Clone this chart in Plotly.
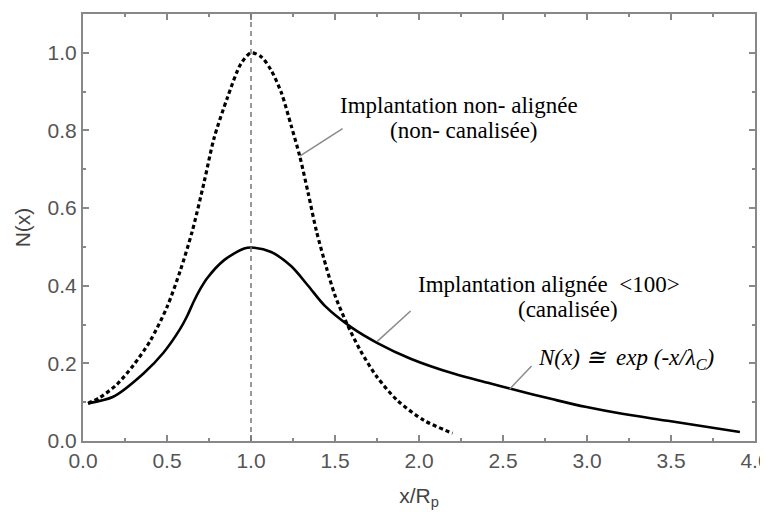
import plotly.graph_objects as go

# Non-aligned (non-channelled) implantation profile (dashed)
x_non = [0.03, 0.10, 0.20, 0.30, 0.40, 0.50, 0.58, 0.65, 0.72, 0.78, 0.86, 0.94, 1.00,
         1.06, 1.12, 1.18, 1.24, 1.29, 1.34, 1.39, 1.45, 1.50, 1.57, 1.65, 1.75, 1.87,
         2.03, 2.20]
n_non = [0.097, 0.112, 0.145, 0.195, 0.258, 0.345, 0.440, 0.540, 0.665, 0.780, 0.885,
         0.972, 1.000, 0.990, 0.955, 0.898, 0.811, 0.734, 0.639, 0.540, 0.445, 0.375,
         0.303, 0.234, 0.165, 0.105, 0.053, 0.020]

# Aligned <100> (channelled) implantation profile (solid)
x_al = [0.03, 0.18, 0.36, 0.48, 0.58, 0.62, 0.66, 0.70, 0.74, 0.84, 0.96, 1.02, 1.12,
        1.24, 1.34, 1.44, 1.60, 1.75, 1.95, 2.21, 2.41, 2.54, 2.81, 2.99, 3.21, 3.48, 3.91]
n_al = [0.097, 0.114, 0.174, 0.228, 0.290, 0.322, 0.360, 0.393, 0.420, 0.466, 0.496,
        0.498, 0.487, 0.450, 0.400, 0.348, 0.292, 0.253, 0.212, 0.173, 0.150, 0.135,
        0.106, 0.088, 0.070, 0.052, 0.023]

x_ticks = [0.0, 0.5, 1.0, 1.5, 2.0, 2.5, 3.0, 3.5, 4.0]
y_ticks = [0.0, 0.2, 0.4, 0.6, 0.8, 1.0]
rp_position = 1.0

fig = go.Figure()

fig.add_trace(go.Scatter(x=x_non, y=n_non, mode="lines",
                         line=dict(color="black", width=3.2, dash="4px,3px", shape="spline",
                                   smoothing=0.8),
                         showlegend=False))
fig.add_trace(go.Scatter(x=x_al, y=n_al, mode="lines",
                         line=dict(color="black", width=2.6, shape="spline", smoothing=0.8),
                         showlegend=False))

# vertical dashed line at Rp
fig.add_shape(type="line", x0=rp_position, x1=rp_position, y0=0, y1=1.1,
              xref="x", yref="y", line=dict(color="#777", width=1.5, dash="5px,4px"))

# pointer lines
pointer_col = "#8a8a8a"
fig.add_shape(type="line", x0=1.29, y0=0.734, x1=1.545, y1=0.805,
              line=dict(color=pointer_col, width=1.5))
fig.add_shape(type="line", x0=1.75, y0=0.256, x1=1.95, y1=0.335,
              line=dict(color=pointer_col, width=1.5))
fig.add_shape(type="line", x0=2.54, y0=0.134, x1=2.67, y1=0.193,
              line=dict(color=pointer_col, width=1.5))

serif = dict(family="Liberation Serif", size=23, color="black")
labels = [
    (2.239, 0.865, "Implantation non- alignée"),
    (2.269, 0.800, "(non- canalisée)"),
    (2.773, 0.403, "Implantation alignée &nbsp;&lt;100&gt;"),
    (2.887, 0.338, "(canalisée)"),
    (3.233, 0.211, "<i>N(x) ≅ &nbsp;exp (-x/λ<sub>C</sub>)</i>"),
]
for lx, ly, txt in labels:
    fig.add_annotation(x=lx, y=ly, xref="x", yref="y", showarrow=False,
                       text=txt, font=serif, align="center")

sans = "Liberation Sans"
axis_common = dict(
    showline=True, linecolor="#888", linewidth=2, mirror="ticks",
    ticks="inside", ticklen=6, tickwidth=1.5, tickcolor="#888",
    showgrid=False, zeroline=False, automargin=False,
    ticklabeloverflow="allow",
    tickfont=dict(family=sans, size=21, color="#555"),
)

fig.update_xaxes(range=[0, 4.0], tickvals=x_ticks, ticktext=[f"{v:.1f}" for v in x_ticks],
                 minor=dict(ticks="inside", ticklen=3, dtick=0.25, tickcolor="#888"),
                 title=dict(text="x/R<sub>p</sub>", standoff=17,
                            font=dict(family=sans, size=21, color="#444")),
                 **axis_common)
fig.update_yaxes(range=[0, 1.1], tickvals=y_ticks, ticktext=[f"{v:.1f}" for v in y_ticks],
                 minor=dict(ticks="inside", ticklen=3, dtick=0.1, tickcolor="#888"),
                 title=dict(text="N(x)", standoff=11,
                            font=dict(family=sans, size=21, color="#444")),
                 **axis_common)

# page body has an 8px margin: shrink figure so plot area lands where the reference has it
fig.update_layout(width=760, height=504, margin=dict(l=75, r=13, t=6, b=71),
                  plot_bgcolor="white", paper_bgcolor="white")

fig.write_html("out.html")
